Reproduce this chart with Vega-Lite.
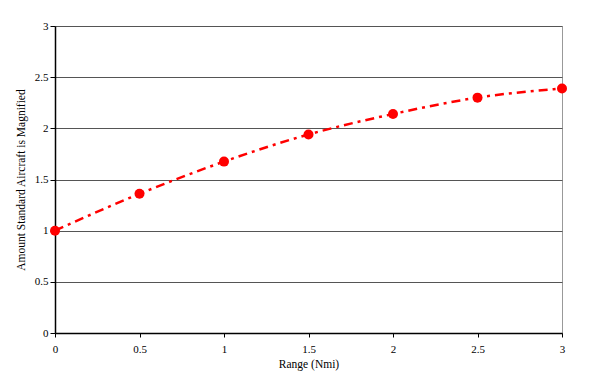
{
  "$schema": "https://vega.github.io/schema/vega-lite/v6.json",
  "width": 507,
  "height": 307,
  "autosize": {"type": "none"},
  "padding": {"left": 55, "top": 26, "right": 40, "bottom": 54},
  "background": "white",
  "config": {
    "view": {"stroke": "#999999", "strokeWidth": 1},
    "font": "Liberation Serif",
    "axis": {
      "labelFont": "Liberation Serif",
      "titleFont": "Liberation Serif",
      "labelFontSize": 11,
      "titleFontSize": 11.5,
      "titleFontWeight": "normal",
      "labelColor": "black",
      "titleColor": "black",
      "domainColor": "black",
      "tickColor": "black",
      "domainWidth": 1.5,
      "tickWidth": 1,
      "labelFlush": false
    }
  },
  "data": {
    "values": [
      {"range": 0, "mag": 1.0},
      {"range": 0.5, "mag": 1.36},
      {"range": 1, "mag": 1.675},
      {"range": 1.5, "mag": 1.94},
      {"range": 2, "mag": 2.14},
      {"range": 2.5, "mag": 2.3},
      {"range": 3, "mag": 2.39}
    ]
  },
  "encoding": {
    "x": {
      "field": "range",
      "type": "quantitative",
      "scale": {"domain": [0, 3], "nice": false},
      "axis": {
        "values": [0, 0.5, 1, 1.5, 2, 2.5, 3],
        "format": "~g",
        "grid": false,
        "tickSize": 4,
        "labelPadding": 6,
        "title": "Range (Nmi)",
        "titlePadding": 4
      }
    },
    "y": {
      "field": "mag",
      "type": "quantitative",
      "scale": {"domain": [0, 3], "nice": false},
      "axis": {
        "values": [0, 0.5, 1, 1.5, 2, 2.5, 3],
        "format": "~g",
        "grid": true,
        "gridColor": "#555555",
        "gridWidth": 1.2,
        "gridOpacity": 1,
        "tickSize": 5,
        "labelPadding": 2,
        "title": "Amount Standard Aircraft is Magnified",
        "titlePadding": 8
      }
    }
  },
  "layer": [
    {
      "mark": {"type": "line", "color": "#ff0000", "strokeWidth": 2.5, "strokeDash": [9, 5, 3, 5], "interpolate": "monotone"}
    },
    {
      "mark": {"type": "circle", "color": "#ff0000", "opacity": 1, "size": 100}
    }
  ]
}
